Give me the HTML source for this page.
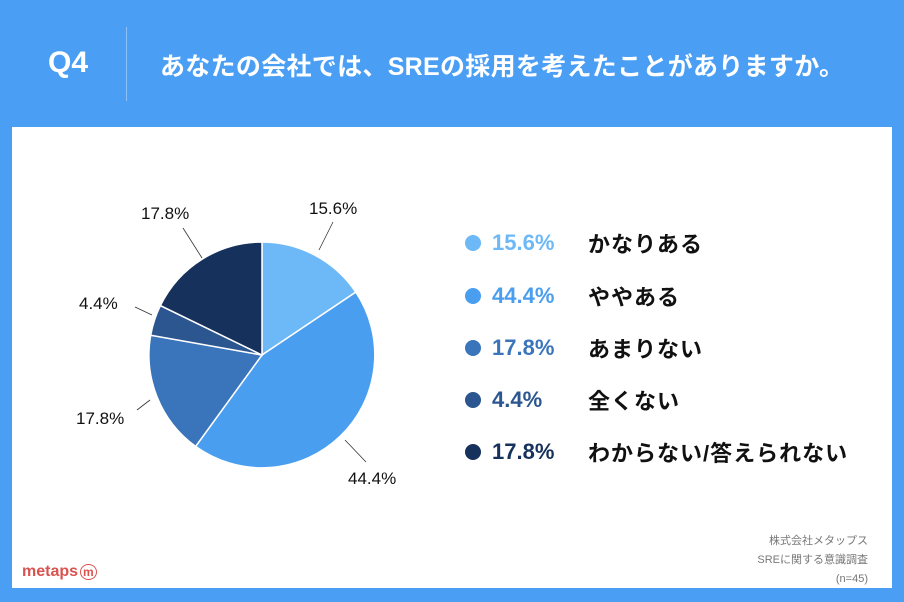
<!DOCTYPE html>
<html><head><meta charset="utf-8"><style>
body{margin:0;width:904px;height:602px;background:#4a9ef4;position:relative;overflow:hidden;font-family:"Liberation Sans","Noto Sans CJK JP",sans-serif}
.q{position:absolute;left:48px;top:46px;color:#fff;font-weight:bold;font-size:30px}
.bar{position:absolute;left:126px;top:27px;width:1px;height:74px;background:#8cc2f7}
.t{position:absolute;left:160px;top:47px;color:#fff;font-weight:bold;font-size:25px;letter-spacing:0.3px}
.panel{position:absolute;left:12px;top:127px;width:880px;height:461px;background:#fff}
.row{position:absolute;left:492px;height:30px;display:flex;align-items:center;font-weight:bold;font-size:22px;white-space:nowrap}
.row .p{width:96px}
.row .j{font-size:22px;color:#111;letter-spacing:1px}
.src{position:absolute;right:36px;top:532px;text-align:right;color:#777;font-size:11px;line-height:19px}
.logo{position:absolute;left:22px;top:563px;color:#d9534f;font-weight:bold;font-size:16px}
</style></head><body>
<div class="q">Q4</div><div class="bar"></div>
<div class="t">あなたの会社では、SREの採用を考えたことがありますか。</div>
<div class="panel"></div>
<svg width="904" height="602" style="position:absolute;left:0;top:0">
<g stroke="#fff" stroke-width="1.5">
<path d="M262,355 L262,242 A113,113 0 0 1 355.8,292.1 Z" fill="#6db8f7"/>
<path d="M262,355 L355.8,292.1 A113,113 0 0 1 195.6,446.4 Z" fill="#4a9ef0"/>
<path d="M262,355 L195.6,446.4 A113,113 0 0 1 150.7,335.2 Z" fill="#3a74ba"/>
<path d="M262,355 L150.7,335.2 A113,113 0 0 1 160.4,305.6 Z" fill="#2b5690"/>
<path d="M262,355 L160.4,305.6 A113,113 0 0 1 262,242 Z" fill="#16325c"/>
</g>
<g stroke="#333" stroke-width="0.8">
<line x1="319" y1="250" x2="333" y2="222"/>
<line x1="345" y1="440" x2="366" y2="462"/>
<line x1="150" y1="400" x2="137" y2="410"/>
<line x1="152" y1="315" x2="135" y2="307"/>
<line x1="202" y1="258" x2="183" y2="228"/>
</g>
<g font-size="17" fill="#111" font-family="Liberation Sans,sans-serif">
<text x="309" y="214">15.6%</text>
<text x="348" y="484">44.4%</text>
<text x="76" y="424">17.8%</text>
<text x="79" y="309">4.4%</text>
<text x="141" y="219">17.8%</text>
</g>
<circle cx="473" cy="243" r="8" fill="#6db8f7"/>
<circle cx="473" cy="296" r="8" fill="#4a9ef0"/>
<circle cx="473" cy="348" r="8" fill="#3a74ba"/>
<circle cx="473" cy="400" r="8" fill="#2b5690"/>
<circle cx="473" cy="452" r="8" fill="#16325c"/>
</svg>
<div class="row" style="top:228px"><span class="p" style="color:#6db8f7">15.6%</span><span class="j">かなりある</span></div>
<div class="row" style="top:281px"><span class="p" style="color:#4a9ef0">44.4%</span><span class="j">ややある</span></div>
<div class="row" style="top:333px"><span class="p" style="color:#3a74ba">17.8%</span><span class="j">あまりない</span></div>
<div class="row" style="top:385px"><span class="p" style="color:#2b5690">4.4%</span><span class="j">全くない</span></div>
<div class="row" style="top:437px"><span class="p" style="color:#16325c">17.8%</span><span class="j">わからない/答えられない</span></div>
<div class="src">株式会社メタップス<br>SREに関する意識調査<br>(n=45)</div>
<div class="logo">metaps<span style="font-size:12px;border:1.5px solid #d9534f;border-radius:50%;padding:0 2px;margin-left:2px">m</span></div>
</body></html>
